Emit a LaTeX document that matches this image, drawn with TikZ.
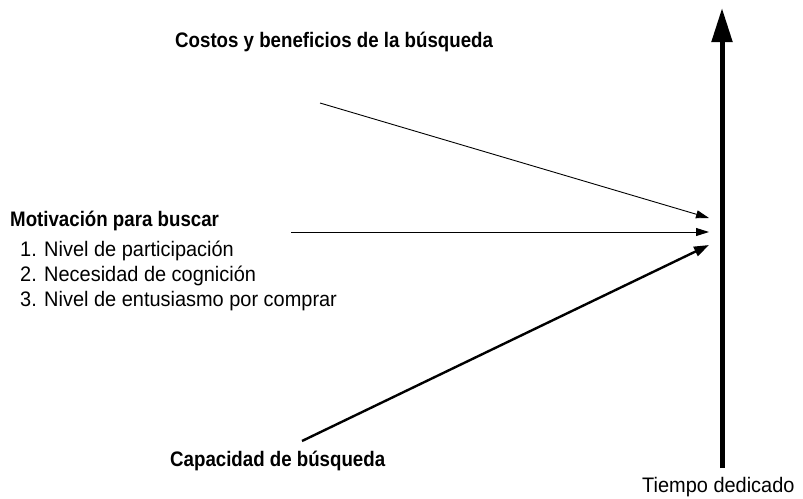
\documentclass[tikz,border=0pt]{standalone}
\usepackage{fontspec}
\setmainfont[FakeStretch=0.95]{Liberation Sans}
\newfontfamily\headfont[FakeStretch=0.89]{Liberation Sans}
\usetikzlibrary{arrows.meta}

\begin{document}
\begin{tikzpicture}[
x=1pt, y=-1pt,
  lbl/.style = {font=\fontsize{21}{24}\headfont\bfseries, inner sep=0pt, anchor=base west},% headings
  itm/.style = {font=\fontsize{21}{24}\selectfont, inner sep=0pt, anchor=base west},% list
  thin/.style = {line width=0.9pt, -{Triangle[length=13pt,width=8pt]}},
  thk/.style = {line width=2.4pt, -{Triangle[length=15pt,width=10pt]}},
  axis/.style = {line width=5pt, -{Triangle[length=34pt,width=20pt]}},
                        ]
\useasboundingbox (0,0) rectangle (803,498);
% labels
\node[lbl] (costos) at (175,47) {Costos y beneficios de la búsqueda};
\node[lbl] (motiv) at (10,226) {Motivación para buscar};
\foreach \t [count=\i] in {1. Nivel de participación,2. Necesidad de cognición,3. Nivel de entusiasmo por comprar}% <-- list
    \node[itm] (item\i) at (20,231+25*\i) {\t};
\node[lbl] (capac) at (170,466) {Capacidad de búsqueda};
\node[itm] (tiempo) at (642,492) {Tiempo dedicado};
% arrow ends
\coordinate (c1) at (320,103);
\coordinate (c2) at (291,232);
\coordinate (c3) at (302,441);
\coordinate (e1) at (709,218);
\coordinate (e2) at (709,232);
\coordinate (e3) at (709,245);
\coordinate (ax0) at (722,468);
\coordinate (ax1) at (722,8);
\draw[thin] (c1) -- (e1);
\draw[thin] (c2) -- (e2);
\draw[thk] (c3) -- (e3);
\draw[axis] (ax0) -- (ax1);
\end{tikzpicture}
\end{document}
